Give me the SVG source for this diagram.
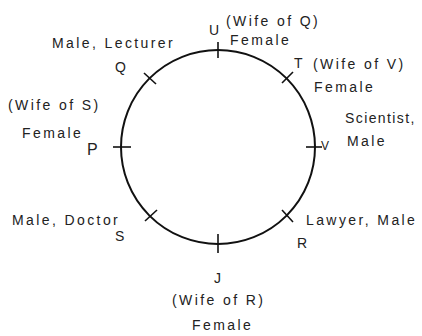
<svg xmlns="http://www.w3.org/2000/svg" width="422" height="336" viewBox="0 0 422 336">
<style>
text{font-family:"Liberation Sans",Arial,sans-serif;font-size:14px;letter-spacing:2.4px;fill:#222}
.ring{fill:none;stroke:#111;stroke-width:2}
.tick{stroke:#111;stroke-width:1.6}
</style>
<rect width="422" height="336" fill="#fff"/>
<g id="connectors">
<circle class="ring" cx="218" cy="147" r="97"/>
</g>
<g id="node-U"><line class="tick" x1="218" y1="42" x2="218" y2="58"/><text x="209" y="35" style="letter-spacing:0">U</text><text x="226" y="26">(Wife of Q)</text><text x="230" y="45">Female</text></g>
<g id="node-T"><line class="tick" x1="282" y1="83" x2="293" y2="72"/><text x="294" y="68" style="letter-spacing:0">T</text><text x="313" y="69">(Wife of V)</text><text x="314" y="92">Female</text></g>
<g id="node-V"><line class="tick" x1="306" y1="147" x2="322" y2="147"/><text x="321" y="150" style="letter-spacing:0;font-size:12px">V</text><text x="345" y="123" style="letter-spacing:1.4px">Scientist,</text><text x="347" y="146">Male</text></g>
<g id="node-R"><line class="tick" x1="282" y1="210" x2="293" y2="222"/><text x="297" y="248" style="letter-spacing:0">R</text><text x="306" y="225">Lawyer, Male</text></g>
<g id="node-J"><line class="tick" x1="218" y1="234" x2="218" y2="253"/><text x="214" y="283" style="letter-spacing:0">J</text><text x="172" y="305">(Wife of R)</text><text x="192" y="330">Female</text></g>
<g id="node-S"><line class="tick" x1="145" y1="221" x2="157" y2="210"/><text x="115" y="241" style="letter-spacing:0">S</text><text x="12" y="225">Male, Doctor</text></g>
<g id="node-P"><line class="tick" x1="113" y1="147" x2="131" y2="147"/><text x="87" y="155" style="letter-spacing:0;font-size:16px">P</text><text x="8" y="110">(Wife of S)</text><text x="22" y="138">Female</text></g>
<g id="node-Q"><line class="tick" x1="144" y1="73" x2="156" y2="84"/><text x="115" y="72" style="letter-spacing:0">Q</text><text x="52" y="48">Male, Lecturer</text></g>
</svg>
